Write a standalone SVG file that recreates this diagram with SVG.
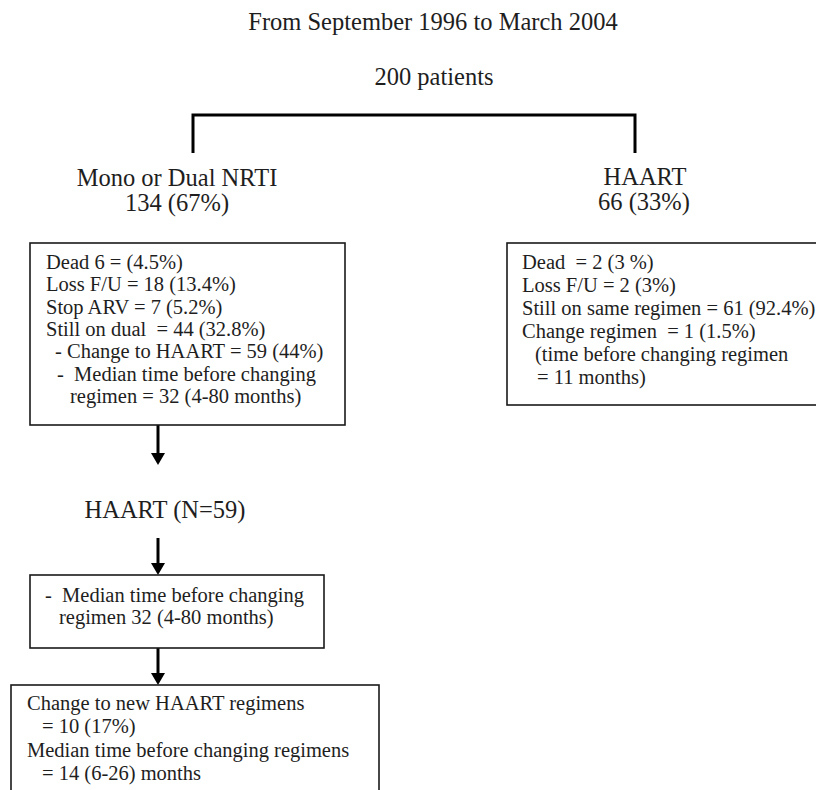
<svg xmlns="http://www.w3.org/2000/svg" width="816" height="790" viewBox="0 0 816 790">
<style>
  text { font-family: "Liberation Serif", "Times New Roman", serif; fill: #1e1e1e; white-space: pre; }
  .lbl { font-size: 24.5px; text-anchor: middle; }
  .bt { font-size: 20.5px; }
  .box { fill: #ffffff; stroke: #1a1a1a; stroke-width: 1.6; }
  .conn { stroke: #000000; stroke-width: 3; fill: none; }
</style>
<defs>
  <marker id="ah" viewBox="0 0 12 14" refX="6" refY="7" markerWidth="12" markerHeight="14" markerUnits="userSpaceOnUse" orient="auto">
    <path d="M0,0 L12,7 L0,14 Z" fill="#000000"/>
  </marker>
</defs>
<rect width="816" height="790" fill="#ffffff"/>

<g id="connectors">
  <path class="conn" d="M193,153 V115 H635 V153"/>
  <line class="conn" x1="158" y1="425" x2="158" y2="459" marker-end="url(#ah)"/>
  <line class="conn" x1="158" y1="538" x2="158" y2="569" marker-end="url(#ah)"/>
  <line class="conn" x1="158" y1="648" x2="158" y2="679" marker-end="url(#ah)"/>
</g>

<g id="title">
  <text class="lbl" x="433" y="30">From September 1996 to March 2004</text>
</g>
<g id="root">
  <text class="lbl" x="434" y="85">200 patients</text>
</g>
<g id="mono-label">
  <text class="lbl" x="177" y="186">Mono or Dual NRTI</text>
  <text class="lbl" x="177" y="211">134 (67%)</text>
</g>
<g id="haart-label">
  <text class="lbl" x="645" y="185">HAART</text>
  <text class="lbl" x="644" y="210">66 (33%)</text>
</g>

<g id="mono-box">
  <rect class="box" x="30" y="243" width="315" height="182"/>
  <text class="bt" x="46" y="269">Dead 6 = (4.5%)</text>
  <text class="bt" x="46" y="291">Loss F/U = 18 (13.4%)</text>
  <text class="bt" x="46" y="314">Stop ARV = 7 (5.2%)</text>
  <text class="bt" x="46" y="336" xml:space="preserve">Still on dual  = 44 (32.8%)</text>
  <text class="bt" x="55" y="358">- Change to HAART = 59 (44%)</text>
  <text class="bt" x="57" y="381" xml:space="preserve">-  Median time before changing</text>
  <text class="bt" x="70" y="403">regimen = 32 (4-80 months)</text>
</g>

<g id="haart-box">
  <rect class="box" x="507" y="243" width="320" height="162"/>
  <text class="bt" x="522" y="269" xml:space="preserve">Dead  = 2 (3 %)</text>
  <text class="bt" x="522" y="292">Loss F/U = 2 (3%)</text>
  <text class="bt" x="522" y="315">Still on same regimen = 61 (92.4%)</text>
  <text class="bt" x="522" y="338" xml:space="preserve">Change regimen  = 1 (1.5%)</text>
  <text class="bt" x="535" y="361">(time before changing regimen</text>
  <text class="bt" x="537" y="384">= 11 months)</text>
</g>

<g id="haart59">
  <text class="lbl" x="165" y="518">HAART (N=59)</text>
</g>

<g id="median-box">
  <rect class="box" x="30" y="575" width="294" height="73"/>
  <text class="bt" x="45" y="602" xml:space="preserve">-  Median time before changing</text>
  <text class="bt" x="59" y="624">regimen 32 (4-80 months)</text>
</g>

<g id="new-regimen-box">
  <rect class="box" x="11" y="685" width="368" height="125"/>
  <text class="bt" x="27" y="710">Change to new HAART regimens</text>
  <text class="bt" x="42" y="733">= 10 (17%)</text>
  <text class="bt" x="27" y="757">Median time before changing regimens</text>
  <text class="bt" x="42" y="780">= 14 (6-26) months</text>
</g>
</svg>
